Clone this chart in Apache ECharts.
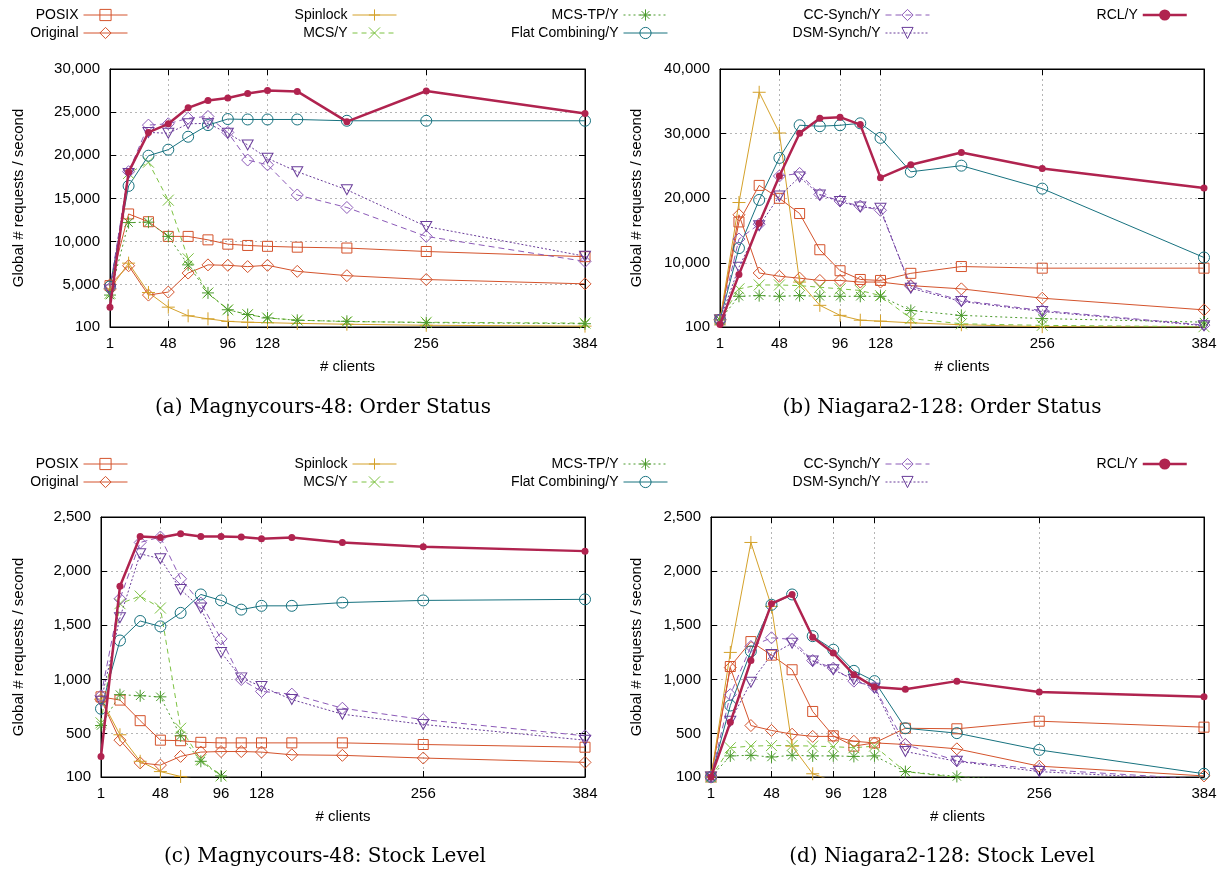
<!DOCTYPE html>
<html><head><meta charset="utf-8">
<script src="https://cdn.jsdelivr.net/npm/echarts@6/dist/echarts.min.js"></script>
<style>html,body{margin:0;padding:0;background:#fff}#c{width:1223px;height:871px}</style>
</head><body><div id="c"></div>
<script>
// ---------- DATA ----------
const clients = [1, 16, 32, 48, 64, 80, 96, 112, 128, 152, 192, 256, 384];
const xTickLabels = [1, 48, 96, 128, 256, 384];
const yTicksOrderA = [100, 5000, 10000, 15000, 20000, 25000, 30000];
const yTicksOrderB = [100, 10000, 20000, 30000, 40000];
const yTicksStock = [100, 500, 1000, 1500, 2000, 2500];
const seriesNames = ['POSIX', 'Original', 'Spinlock', 'MCS/Y', 'MCS-TP/Y', 'Flat Combining/Y', 'CC-Synch/Y', 'DSM-Synch/Y', 'RCL/Y'];
const captions = ['(a) Magnycours-48: Order Status', '(b) Niagara2-128: Order Status', '(c) Magnycours-48: Stock Level', '(d) Niagara2-128: Stock Level'];

// (a) Magnycours-48: Order Status
const a_posix    = [4900, 13200, 12300, 10600, 10600, 10200, 9700, 9550, 9450, 9350, 9250, 8850, 8250];
const a_original = [5000, 7200, 3800, 4150, 6350, 7300, 7250, 7100, 7250, 6550, 6050, 5600, 5100];
const a_spinlock = [4500, 7500, 4100, 2400, 1400, 1050, 750, 650, 600, 520, 420, 300, 200];
const a_mcs      = [4000, 17900, 19200, 14800, 8000, 4050, 2100, 1550, 1150, 900, 720, 650, 550];
const a_mcstp    = [3800, 12200, 12250, 10600, 7300, 4050, 2100, 1550, 1150, 880, 760, 600, 480];
const a_fc       = [4800, 16450, 19950, 20650, 22150, 23500, 24200, 24150, 24150, 24150, 24000, 24000, 24000];
const a_cc       = [4600, 18100, 23500, 23650, 24300, 24500, 22650, 19450, 18900, 15400, 13950, 10600, 7700];
const a_dsm      = [4400, 17900, 22650, 22550, 23650, 23700, 22550, 21200, 19650, 18100, 16000, 11750, 8300];
const a_rcl      = [2400, 18050, 22650, 23650, 25500, 26350, 26650, 27150, 27500, 27400, 23900, 27450, 24850];

// (b) Niagara2-128: Order Status
const b_posix    = [1200, 16350, 22000, 20000, 17650, 12050, 8800, 7450, 7300, 8400, 9450, 9200, 9200];
const b_original = [1200, 17450, 8450, 7950, 7650, 7300, 7300, 7050, 7050, 6500, 6000, 4550, 2750];
const b_spinlock = [1200, 19350, 36400, 30100, 7050, 3450, 1900, 1150, 1000, 750, 450, 150, 80];
const b_mcs      = [1200, 6000, 6600, 6600, 6500, 6250, 6000, 5750, 4950, 1400, 600, 350, 150];
const b_mcstp    = [1200, 4850, 4950, 4850, 4950, 4850, 4850, 4850, 4850, 2650, 1900, 1400, 850];
const b_fc       = [1200, 12300, 19750, 26250, 31300, 31150, 31300, 31600, 29350, 24100, 25050, 21500, 10850];
const b_cc       = [1200, 13700, 16000, 23450, 23850, 20600, 19600, 18800, 18150, 6400, 4200, 2650, 400];
const b_dsm      = [1200, 9350, 15750, 20350, 23300, 20500, 19500, 18650, 18450, 6100, 4050, 2500, 300];
const b_rcl      = [500, 8200, 16150, 23450, 30050, 32400, 32550, 31400, 23200, 25200, 27100, 24600, 21600];

// (c) Magnycours-48: Stock Level
const c_posix    = [840, 810, 620, 440, 435, 420, 415, 415, 415, 415, 415, 400, 375];
const c_original = [815, 440, 230, 210, 290, 330, 335, 335, 330, 305, 300, 275, 235];
const c_spinlock = [820, 490, 245, 150, 105, 70, 50, 40, 30, 20, 15, 10, 5];
const c_mcs      = [600, 1700, 1770, 1660, 550, 260, 110, 60, 50, 40, 30, 20, 10];
const c_mcstp    = [575, 860, 850, 840, 480, 245, 110, 60, 50, 40, 30, 20, 10];
const c_fc       = [730, 1360, 1540, 1490, 1615, 1785, 1730, 1645, 1680, 1680, 1710, 1730, 1740];
const c_cc       = [850, 1745, 2265, 2315, 1930, 1705, 1375, 1000, 890, 865, 735, 630, 480];
const c_dsm      = [800, 1570, 2160, 2115, 1830, 1660, 1250, 1015, 935, 815, 680, 585, 440];
const c_rcl      = [290, 1860, 2320, 2310, 2345, 2320, 2320, 2315, 2300, 2310, 2265, 2225, 2185];

// (d) Niagara2-128: Stock Level
const d_posix    = [100, 1120, 1350, 1225, 1090, 705, 480, 385, 415, 550, 545, 615, 560];
const d_original = [100, 1110, 575, 530, 495, 475, 475, 430, 415, 400, 360, 200, 110];
const d_spinlock = [100, 1250, 2265, 1675, 385, 130, 60, 40, 30, 20, 15, 10, 5];
const d_mcs      = [100, 370, 385, 390, 390, 385, 380, 370, 385, 150, 95, 60, 30];
const d_mcstp    = [100, 295, 300, 285, 300, 295, 295, 290, 295, 150, 105, 60, 30];
const d_fc       = [100, 760, 1260, 1690, 1785, 1400, 1275, 1080, 985, 550, 505, 350, 130];
const d_cc       = [100, 860, 1305, 1385, 1370, 1175, 1105, 985, 930, 400, 250, 170, 80];
const d_dsm      = [100, 615, 975, 1230, 1335, 1170, 1090, 1000, 920, 335, 245, 150, 70];
const d_rcl      = [100, 605, 1175, 1700, 1785, 1390, 1245, 1045, 930, 910, 985, 885, 840];

// ---------- STYLE ----------
const HOLLOW = 'rgba(255,255,255,0)';
const STYLES = [
  {color: '#d4532c', symbol: 'rect', size: 10, type: 'solid', width: 1, hollow: true},
  {color: '#d4532c', symbol: 'diamond', size: 12, type: 'solid', width: 1, hollow: true},
  {color: '#d4a12a', symbol: 'path://M5,0L5,10M0,5L10,5', size: 13, type: 'solid', width: 1, hollow: true},
  {color: '#7dc242', symbol: 'path://M0,0L10,10M10,0L0,10', size: 11, type: [5, 4], width: 1, hollow: true},
  {color: '#4b9a2c', symbol: 'path://M5,0L5,10M0,5L10,5M1.5,1.5L8.5,8.5M8.5,1.5L1.5,8.5', size: 12, type: [2, 3], width: 1, hollow: true},
  {color: '#17727f', symbol: 'circle', size: 11, type: 'solid', width: 1, hollow: true},
  {color: '#8c5ab8', symbol: 'diamond', size: 12, type: [6, 4], width: 1, hollow: true},
  {color: '#6a3d9a', symbol: 'path://M0,0L10,0L5,9Z', size: [11, 10], type: [2, 2], width: 1, hollow: true},
  {color: '#b0234f', symbol: 'circle', size: 7, type: 'solid', width: 2.5, hollow: false}
];

const panelData = [
  [a_posix, a_original, a_spinlock, a_mcs, a_mcstp, a_fc, a_cc, a_dsm, a_rcl],
  [b_posix, b_original, b_spinlock, b_mcs, b_mcstp, b_fc, b_cc, b_dsm, b_rcl],
  [c_posix, c_original, c_spinlock, c_mcs, c_mcstp, c_fc, c_cc, c_dsm, c_rcl],
  [d_posix, d_original, d_spinlock, d_mcs, d_mcstp, d_fc, d_cc, d_dsm, d_rcl]
];
const panelTicks = [yTicksOrderA, yTicksOrderB, yTicksStock, yTicksStock];
const panelGrids = [
  {left: 110, top: 69, width: 475, height: 258},
  {left: 720, top: 69, width: 484, height: 258},
  {left: 101, top: 517, width: 484, height: 260},
  {left: 711, top: 517, width: 493, height: 260}
];
const yNameGaps = [84, 76, 75, 67];
const captionPos = [[323, 408], [942, 408], [325, 857], [942, 857]];

const FONT = 'Liberation Sans';
const fmt = v => String(v).replace(/\B(?=(\d{3})+(?!\d))/g, ',');

const grids = [], xAxes = [], yAxes = [], series = [], graphics = [];
panelGrids.forEach((g, p) => {
  grids.push(Object.assign({show: true, borderColor: '#000', borderWidth: 1, containLabel: false}, g));
  const yt = panelTicks[p];
  const tickBase = {show: true, inside: true, length: 6, lineStyle: {color: '#000', width: 1}};
  xAxes.push({
    type: 'value', gridIndex: p, min: 1, max: 384, position: 'bottom',
    name: '# clients', nameLocation: 'middle', nameGap: 32,
    nameTextStyle: {fontFamily: FONT, fontSize: 15, color: '#000'},
    axisLine: {show: true, onZero: false, lineStyle: {color: '#000', width: 1}},
    axisTick: Object.assign({customValues: xTickLabels}, tickBase),
    axisLabel: {customValues: xTickLabels, fontFamily: FONT, fontSize: 15, color: '#000', margin: 9},
    splitLine: {show: true, lineStyle: {color: '#b5b5b5', type: [2, 3], width: 1}}
  });
  xAxes.push({
    type: 'value', gridIndex: p, min: 1, max: 384, position: 'top',
    axisLine: {show: true, onZero: false, lineStyle: {color: '#000', width: 1}},
    axisTick: Object.assign({customValues: xTickLabels}, tickBase),
    axisLabel: {show: false}, splitLine: {show: false}
  });
  yAxes.push({
    type: 'value', gridIndex: p, min: yt[0], max: yt[yt.length - 1], position: 'left',
    name: 'Global # requests / second', nameLocation: 'middle', nameGap: yNameGaps[p],
    nameTextStyle: {fontFamily: FONT, fontSize: 15, color: '#000'},
    axisLine: {show: true, onZero: false, lineStyle: {color: '#000', width: 1}},
    axisTick: Object.assign({customValues: yt}, tickBase),
    axisLabel: {customValues: yt, formatter: fmt, fontFamily: FONT, fontSize: 15, color: '#000', margin: 10},
    splitLine: {show: true, lineStyle: {color: '#b5b5b5', type: [2, 3], width: 1}}
  });
  yAxes.push({
    type: 'value', gridIndex: p, min: yt[0], max: yt[yt.length - 1], position: 'right',
    axisLine: {show: true, onZero: false, lineStyle: {color: '#000', width: 1}},
    axisTick: Object.assign({customValues: yt}, tickBase),
    axisLabel: {show: false}, splitLine: {show: false}
  });
  panelData[p].forEach((vals, k) => {
    const s = STYLES[k];
    series.push({
      type: 'line', name: seriesNames[k], xAxisIndex: 2 * p, yAxisIndex: 2 * p,
      data: clients.map((x, i) => [x, vals[i]]),
      symbol: s.symbol, symbolSize: s.size, showSymbol: true, clip: true,
      lineStyle: {color: s.color, width: s.width, type: s.type},
      itemStyle: {color: s.hollow ? HOLLOW : s.color, borderColor: s.color, borderWidth: s.hollow ? 1 : 0},
      emphasis: {disabled: true}, animation: false, z: 2 + (k === 8 ? 2 : 0)
    });
  });
  graphics.push({
    type: 'text', x: captionPos[p][0], y: captionPos[p][1],
    style: {text: captions[p], fontFamily: 'DejaVu Serif', fontSize: 20, fill: '#000', align: 'center', verticalAlign: 'middle'}
  });
});

const legendCols = [['POSIX', 'Original'], ['Spinlock', 'MCS/Y'], ['MCS-TP/Y', 'Flat Combining/Y'], ['CC-Synch/Y', 'DSM-Synch/Y'], ['RCL/Y']];
const legendIconRight = [128, 397, 668, 930, 1188];
const legends = [];
[8, 457].forEach(top => {
  legendCols.forEach((col, i) => {
    legends.push({
      orient: 'vertical', align: 'right', right: 1223 - legendIconRight[i], top: top,
      itemWidth: 44, itemHeight: 14, itemGap: 4, padding: 0, selectedMode: false,
      itemStyle: {borderWidth: 'inherit'}, lineStyle: {width: 'inherit'},
      textStyle: {fontFamily: FONT, fontSize: 14, color: '#000'},
      data: col
    });
  });
});

const chart = echarts.init(document.getElementById('c'));
chart.setOption({
  backgroundColor: '#fff', animation: false,
  grid: grids, xAxis: xAxes, yAxis: yAxes, series: series, legend: legends, graphic: graphics
});
</script></body></html>
